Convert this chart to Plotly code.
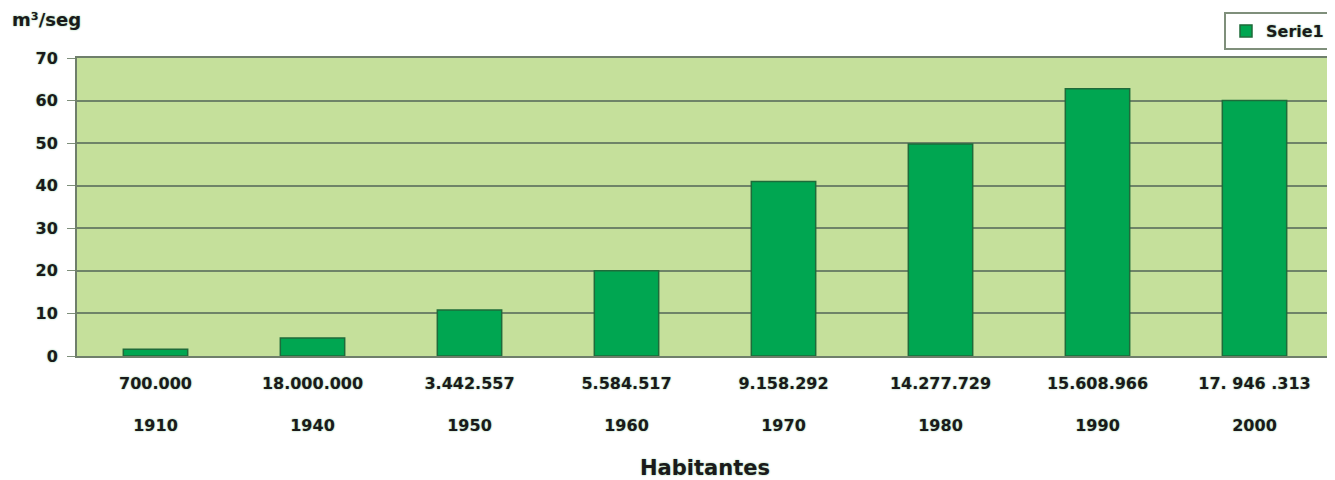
import plotly.graph_objects as go

years = ["1910", "1940", "1950", "1960", "1970", "1980", "1990", "2000"]
habitantes = ["700.000", "18.000.000", "3.442.557", "5.584.517", "9.158.292",
              "14.277.729", "15.608.966", "17. 946 .313"]
caudal = [1.6, 4.2, 10.8, 20.0, 41.0, 49.8, 62.8, 60.0]
y_ticks = [0, 10, 20, 30, 40, 50, 60, 70]

FONT = "DejaVu Sans, Liberation Sans, Arial, sans-serif"
TXT = "#1a1a1a"
HALO = "0px 0px 2px #8cc39a"
ticktext = [f"<b>{h}</b><br><br><b>{y}</b>" for h, y in zip(habitantes, years)]

# the page body has an 8px default margin, so the figure is sized to fit
W, H = 1327, 472
L, R, T, B = 69, 2, 50, 124
PW, PH = W - L - R, H - T - B

fig = go.Figure()
fig.add_trace(go.Bar(
    x=years, y=caudal, name="<b>Serie1</b>",
    marker=dict(color="#00A651", line=dict(color="#1E6B3A", width=1.5)),
    width=0.41,
))

fig.update_layout(
    width=W, height=H,
    margin=dict(l=L, r=R, t=T, b=B, autoexpand=False),
    paper_bgcolor="white",
    plot_bgcolor="#C5E09B",
    font=dict(family=FONT, size=16, color=TXT, shadow=HALO),
    showlegend=True,
    legend=dict(x=(1323 - L) / PW, xanchor="right",
                y=1 + (T - 4) / PH, yanchor="top",
                bgcolor="white", bordercolor="#7F8F7B", borderwidth=2,
                itemwidth=30,
                font=dict(size=16, family=FONT, color=TXT, shadow=HALO)),
    bargap=0.59,
)
fig.update_xaxes(
    type="category", tickvals=years, ticktext=ticktext,
    showline=True, linecolor="#6F7F6B", linewidth=2, mirror=True,
    ticks="outside", ticklen=12, tickcolor="rgba(0,0,0,0)",
    tickfont=dict(size=16, family=FONT, color=TXT, shadow=HALO),
    automargin=False,
    title=dict(text="<b>Habitantes</b>",
               font=dict(size=21, family=FONT, color=TXT, shadow=HALO),
               standoff=28),
)
fig.update_yaxes(
    range=[0, 70], tickvals=y_ticks,
    ticktext=[f"<b>{t}</b>" for t in y_ticks],
    showgrid=True, gridcolor="#6F8468", gridwidth=1.5,
    showline=True, linecolor="#6F7F6B", linewidth=2, mirror=True,
    ticks="outside", ticklen=8, tickcolor="#7F8F7B",
    ticklabelstandoff=6,
    tickfont=dict(size=16, family=FONT, color=TXT, shadow=HALO),
    zeroline=False, automargin=False,
)
fig.add_annotation(
    text="<b>m³/seg</b>", xref="paper", yref="paper",
    x=(2 - L) / PW, y=1 + (T - 11) / PH,
    xanchor="left", yanchor="middle", showarrow=False,
    font=dict(size=18, family=FONT, color=TXT, shadow=HALO),
)

fig.write_html("out.html")
